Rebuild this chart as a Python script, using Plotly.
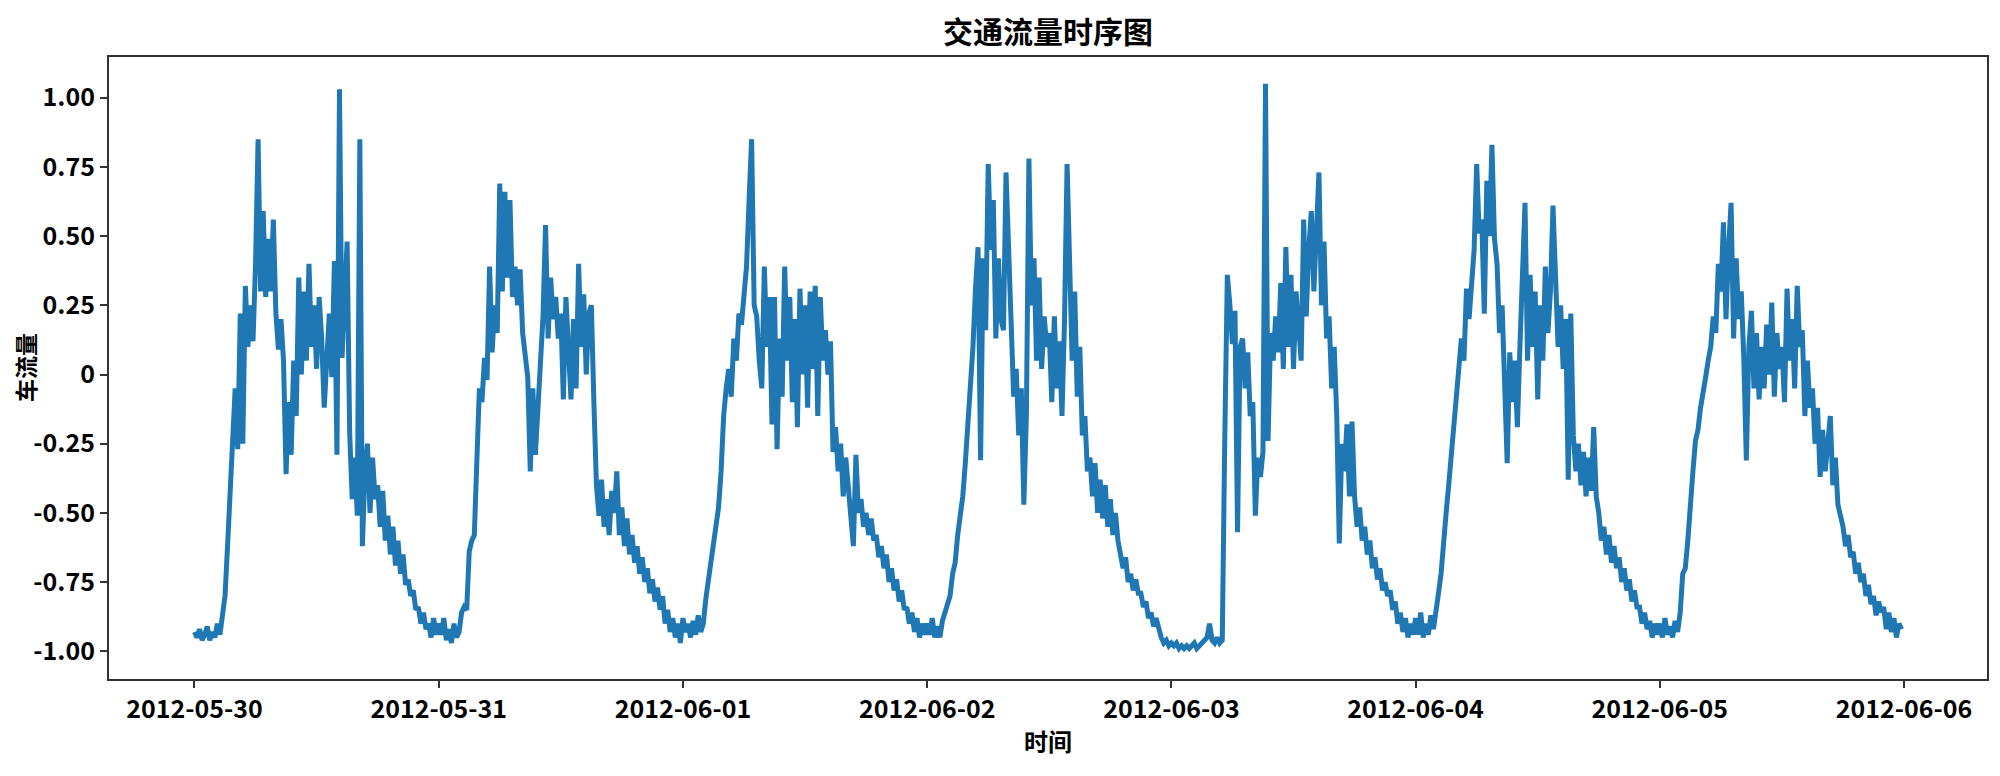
import pandas as pd
import plotly.graph_objects as go

# 15-minute samples per day (96 values each)
day_0530 = [
    -0.93, -0.95, -0.92, -0.96, -0.94, -0.91, -0.96, -0.93, -0.95, -0.90, -0.94, -0.88,
    -0.80, -0.62, -0.45, -0.30, -0.05, -0.27, 0.22, -0.25, 0.32, 0.10, 0.25, 0.12,
    0.40, 0.85, 0.30, 0.59, 0.28, 0.49, 0.30, 0.56, 0.22, 0.09, 0.20, 0.05,
    -0.36, -0.10, -0.29, 0.05, -0.15, 0.35, 0.00, 0.30, 0.05, 0.40, 0.10, 0.25,
    0.02, 0.28, 0.13, -0.12, 0.05, 0.22, -0.01, 0.41, -0.29, 1.03, 0.06, 0.30,
    0.48, -0.21, -0.45, -0.30, -0.51, 0.85, -0.62, -0.35, -0.25, -0.50, -0.30, -0.45,
    -0.40, -0.55, -0.42, -0.60, -0.51, -0.65, -0.55, -0.69, -0.60, -0.72, -0.65, -0.76,
    -0.74, -0.80, -0.78, -0.85, -0.84, -0.90, -0.86, -0.92, -0.90, -0.95, -0.88, -0.94,
]
day_0531 = [
    -0.90, -0.94, -0.88, -0.96, -0.92, -0.97, -0.90, -0.95, -0.93, -0.86, -0.84, -0.85,
    -0.64, -0.60, -0.58, -0.31, -0.05, -0.10, 0.06, -0.02, 0.39, 0.08, 0.25, 0.15,
    0.69, 0.30, 0.66, 0.35, 0.63, 0.28, 0.39, 0.25, 0.38, 0.15, 0.05, -0.01,
    -0.35, -0.05, -0.29, -0.10, 0.06, 0.21, 0.54, 0.13, 0.35, 0.20, 0.28, 0.13,
    0.22, -0.09, 0.28, 0.05, -0.09, 0.20, -0.05, 0.40, 0.10, 0.29, 0.00, 0.22,
    0.25, -0.10, -0.40, -0.51, -0.38, -0.55, -0.45, -0.58, -0.42, -0.50, -0.35, -0.58,
    -0.48, -0.62, -0.52, -0.65, -0.58, -0.68, -0.62, -0.72, -0.66, -0.75, -0.70, -0.79,
    -0.74, -0.82, -0.77, -0.85, -0.80, -0.90, -0.85, -0.93, -0.88, -0.95, -0.90, -0.97,
]
day_0601 = [
    -0.88, -0.93, -0.90, -0.95, -0.89, -0.94, -0.87, -0.93, -0.90, -0.81, -0.75, -0.68,
    -0.61, -0.55, -0.48, -0.35, -0.15, -0.05, 0.02, -0.08, 0.13, 0.05, 0.22, 0.18,
    0.30, 0.39, 0.63, 0.85, 0.25, 0.21, 0.05, -0.05, 0.39, 0.10, 0.28, -0.18,
    0.28, -0.27, 0.13, -0.08, 0.39, 0.05, 0.28, -0.10, 0.20, -0.19, 0.31, 0.00,
    0.25, -0.12, 0.30, 0.02, 0.32, -0.15, 0.28, 0.05, 0.16, 0.00, 0.12, -0.28,
    -0.19, -0.35, -0.25, -0.44, -0.30, -0.41, -0.55, -0.62, -0.29, -0.50, -0.45, -0.55,
    -0.50, -0.58, -0.52, -0.60, -0.58, -0.66, -0.62, -0.70, -0.65, -0.75, -0.70, -0.78,
    -0.74, -0.82, -0.78, -0.85, -0.84, -0.90, -0.86, -0.93, -0.88, -0.95, -0.90, -0.94,
]
day_0602 = [
    -0.90, -0.94, -0.88, -0.95, -0.91, -0.95, -0.89, -0.86, -0.84, -0.80, -0.72, -0.68,
    -0.58, -0.52, -0.44, -0.32, -0.19, -0.04, 0.10, 0.31, 0.46, -0.31, 0.42, 0.16,
    0.76, 0.45, 0.63, 0.13, 0.42, 0.20, 0.16, 0.73, 0.42, 0.10, -0.08, 0.02,
    -0.22, -0.05, -0.47, -0.15, 0.78, 0.25, 0.42, 0.05, 0.35, 0.02, 0.21, 0.10,
    0.15, -0.10, 0.21, -0.05, 0.12, -0.15, 0.20, 0.76, 0.39, 0.05, 0.30, -0.08,
    0.10, -0.22, -0.15, -0.35, -0.30, -0.44, -0.32, -0.50, -0.38, -0.52, -0.40, -0.55,
    -0.45, -0.58, -0.50, -0.60, -0.65, -0.70, -0.66, -0.75, -0.72, -0.78, -0.74, -0.79,
    -0.79, -0.84, -0.82, -0.88, -0.86, -0.91, -0.88, -0.92, -0.95, -0.97, -0.96, -0.98,
]
day_0603 = [
    -0.97, -0.98, -0.97, -0.99, -0.98, -0.99, -0.98, -0.99, -0.98, -0.97, -0.99, -0.98,
    -0.97, -0.96, -0.95, -0.90, -0.96, -0.97, -0.95, -0.97, -0.96, -0.22, 0.36, 0.25,
    0.11, 0.23, -0.57, 0.10, 0.13, -0.05, 0.08, -0.15, -0.10, -0.51, -0.30, -0.37,
    -0.28, 1.05, -0.24, 0.15, 0.05, 0.21, 0.08, 0.33, 0.02, 0.46, 0.10, 0.36,
    0.02, 0.30, 0.15, 0.05, 0.56, 0.21, 0.45, 0.59, 0.30, 0.50, 0.73, 0.25,
    0.48, 0.13, 0.21, -0.05, 0.10, -0.15, -0.61, -0.25, -0.35, -0.18, -0.44, -0.17,
    -0.44, -0.55, -0.48, -0.60, -0.55, -0.65, -0.60, -0.70, -0.66, -0.74, -0.70, -0.78,
    -0.75, -0.80, -0.78, -0.85, -0.82, -0.90, -0.86, -0.93, -0.88, -0.95, -0.90, -0.94,
]
day_0604 = [
    -0.88, -0.94, -0.86, -0.95, -0.90, -0.94, -0.87, -0.92, -0.84, -0.79, -0.72, -0.58,
    -0.50, -0.40, -0.29, -0.22, -0.12, -0.01, 0.13, 0.05, 0.31, 0.20, 0.35, 0.45,
    0.76, 0.51, 0.56, 0.22, 0.70, 0.50, 0.83, 0.49, 0.40, 0.15, 0.25, -0.05,
    -0.32, 0.08, -0.10, 0.05, -0.19, 0.10, 0.36, 0.62, 0.05, 0.36, 0.10, 0.30,
    -0.09, 0.25, 0.05, 0.39, 0.15, 0.30, 0.61, 0.28, 0.10, 0.25, 0.02, 0.20,
    -0.38, 0.22, -0.22, -0.35, -0.25, -0.40, -0.28, -0.44, -0.30, -0.42, -0.19, -0.44,
    -0.50, -0.60, -0.55, -0.65, -0.58, -0.68, -0.62, -0.70, -0.66, -0.75, -0.70, -0.78,
    -0.74, -0.82, -0.78, -0.84, -0.84, -0.90, -0.86, -0.92, -0.89, -0.95, -0.90, -0.94,
]
day_0605 = [
    -0.90, -0.95, -0.88, -0.94, -0.91, -0.95, -0.89, -0.93, -0.86, -0.72, -0.70, -0.60,
    -0.44, -0.35, -0.24, -0.20, -0.12, -0.05, -0.01, 0.05, 0.10, 0.21, 0.15, 0.40,
    0.30, 0.55, 0.20, 0.45, 0.62, 0.13, 0.42, 0.20, 0.30, 0.06, -0.31, 0.10,
    0.23, -0.05, 0.15, -0.09, 0.10, -0.05, 0.18, 0.00, 0.26, -0.08, 0.15, 0.02,
    0.10, -0.10, 0.31, 0.05, 0.20, -0.05, 0.32, 0.10, 0.16, -0.15, 0.05, -0.12,
    -0.05, -0.25, -0.12, -0.37, -0.20, -0.35, -0.25, -0.15, -0.40, -0.30, -0.47, -0.51,
    -0.55, -0.62, -0.58, -0.66, -0.64, -0.72, -0.68, -0.75, -0.72, -0.80, -0.76, -0.83,
    -0.80, -0.87, -0.82, -0.86, -0.84, -0.92, -0.86, -0.93, -0.88, -0.95, -0.90, -0.92,
]

days = ["2012-05-30", "2012-05-31", "2012-06-01", "2012-06-02",
        "2012-06-03", "2012-06-04", "2012-06-05"]
tick_labels = ["2012-05-30", "2012-05-31", "2012-06-01", "2012-06-02",
               "2012-06-03", "2012-06-04", "2012-06-05", "2012-06-06"]
y_ticks = [-1.0, -0.75, -0.5, -0.25, 0.0, 0.25, 0.5, 0.75, 1.0]
y_tick_text = ["-1.00", "-0.75", "-0.50", "-0.25", "0", "0.25", "0.50", "0.75", "1.00"]

values = (day_0530 + day_0531 + day_0601 + day_0602
          + day_0603 + day_0604 + day_0605)
times = pd.date_range(days[0], periods=len(values), freq="15min")

FONT = "Noto Sans CJK SC"

# page body has an 8px default margin; figure is sized to fill the rest
W, H = 1992, 768
L, R, T, B = 101, 13, 49, 97

fig = go.Figure()
fig.add_trace(go.Scatter(
    x=times, y=values, mode="lines",
    line=dict(color="#1f77b4", width=5),
    showlegend=False,
))

fig.update_layout(
    width=W, height=H,
    paper_bgcolor="white", plot_bgcolor="white",
    margin=dict(l=L, r=R, t=T, b=B),
    font=dict(family=FONT, color="black"),
    title=dict(text="<b>交通流量时序图</b>", x=(L + (W - R)) / 2 / W, xanchor="center",
               y=1 - 24 / H, yanchor="middle", yref="container",
               font=dict(size=30, family=FONT, color="black")),
)

fig.update_xaxes(
    type="date",
    range=["2012-05-29 15:36", "2012-06-06 08:09"],
    tickvals=pd.to_datetime(tick_labels),
    ticktext=[f"<b>{t}</b>" for t in tick_labels],
    tickfont=dict(size=25, family=FONT, color="black"),
    ticks="outside", ticklen=7, tickwidth=1.5, tickcolor="#333",
    showline=True, linecolor="#333", linewidth=2, mirror=True,
    showgrid=False, zeroline=False,
)
fig.update_yaxes(
    range=[-1.1, 1.147],
    tickvals=y_ticks,
    ticktext=[f"<b>{t}</b>" for t in y_tick_text],
    tickfont=dict(size=25, family=FONT, color="black"),
    ticks="outside", ticklen=7, tickwidth=1.5, tickcolor="#333",
    showline=True, linecolor="#333", linewidth=2, mirror=True,
    showgrid=False, zeroline=False,
)

plot_h = H - T - B
plot_w = W - L - R
fig.add_annotation(text="<b>时间</b>", xref="paper", yref="paper",
                   x=0.5, y=-(740 - 679) / plot_h, xanchor="center", yanchor="middle",
                   showarrow=False, font=dict(size=24, family=FONT, color="black"))
fig.add_annotation(text="<b>车流量</b>", xref="paper", yref="paper",
                   x=-(109 - 25) / plot_w, y=0.5, xanchor="center", yanchor="middle",
                   textangle=-90, showarrow=False,
                   font=dict(size=23, family=FONT, color="black"))

fig.write_html("out.html")
